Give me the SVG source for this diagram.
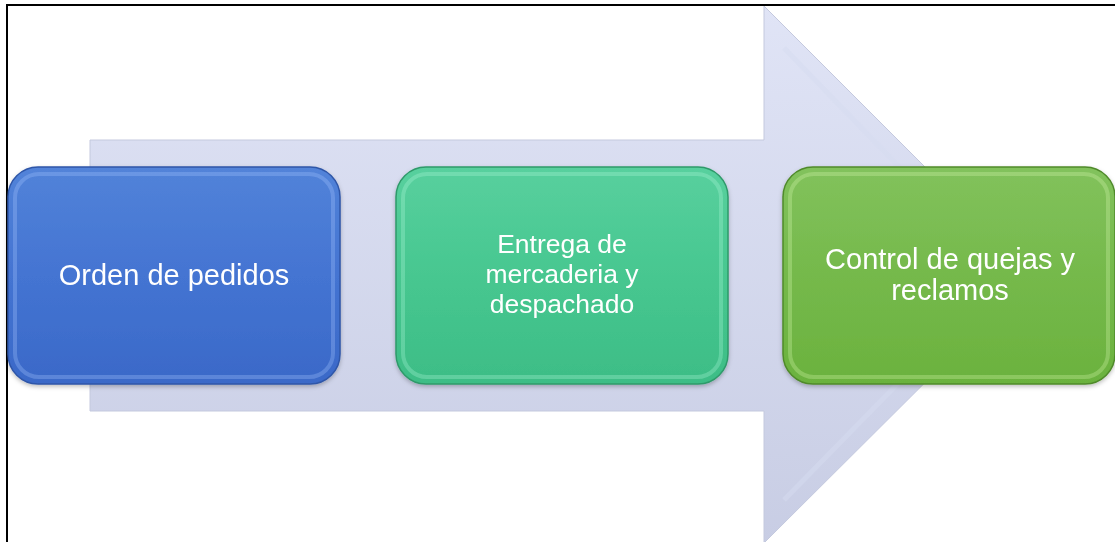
<svg xmlns="http://www.w3.org/2000/svg" width="1115" height="542" viewBox="0 0 1115 542">
<defs>
<linearGradient id="gArrow" x1="0" y1="0" x2="0" y2="1">
<stop offset="0" stop-color="#e0e4f6"/>
<stop offset="1" stop-color="#c8cde4"/>
</linearGradient>
<linearGradient id="gBlue" x1="0" y1="0" x2="0" y2="1">
<stop offset="0" stop-color="#5283d9"/>
<stop offset="0.5" stop-color="#4474d2"/>
<stop offset="1" stop-color="#3a69c8"/>
</linearGradient>
<linearGradient id="gTeal" x1="0" y1="0" x2="0" y2="1">
<stop offset="0" stop-color="#58d09e"/>
<stop offset="0.5" stop-color="#47c790"/>
<stop offset="1" stop-color="#3dbd86"/>
</linearGradient>
<linearGradient id="gGreen" x1="0" y1="0" x2="0" y2="1">
<stop offset="0" stop-color="#82c25c"/>
<stop offset="0.5" stop-color="#75b94b"/>
<stop offset="1" stop-color="#6bb23e"/>
</linearGradient>
<filter id="shadow" x="-5%" y="-5%" width="110%" height="115%">
<feDropShadow dx="0" dy="2" stdDeviation="2" flood-color="#000" flood-opacity="0.25"/>
</filter>
</defs>
<style>
.lbl{font-family:"Liberation Sans",Arial,sans-serif;font-size:29px;fill:#ffffff;text-anchor:middle}
.sm{font-size:26.5px}
.hl{fill:none;stroke-width:4;stroke-opacity:0.3}
</style>
<rect x="7" y="5" width="1120" height="545" fill="#ffffff" stroke="#000000" stroke-width="2"/>
<g id="flow-arrow">
<path d="M90,140 H764 V6 L1033,275 L764,543 V411 H90 Z" fill="url(#gArrow)" stroke="#c4c9de" stroke-width="1"/>
<path d="M784,48 L1004,275 L784,500" fill="none" stroke="#d6dbef" stroke-width="5" stroke-opacity="0.5"/>
</g>
<g id="connectors"></g>
<g id="node-orden" filter="url(#shadow)">
<rect x="8" y="167" width="332" height="217" rx="30" fill="url(#gBlue)" stroke="#2f56a8" stroke-width="1.5"/>
<rect x="15" y="174" width="318" height="203" rx="24" class="hl" stroke="#a8c8ff"/>
<text class="lbl" x="174" y="285">Orden de pedidos</text>
</g>
<g id="node-entrega" filter="url(#shadow)">
<rect x="396" y="167" width="332" height="217" rx="30" fill="url(#gTeal)" stroke="#2e9a6a" stroke-width="1.5"/>
<rect x="403" y="174" width="318" height="203" rx="24" class="hl" stroke="#b0f8dc"/>
<text class="lbl sm" x="562" y="253">Entrega de</text>
<text class="lbl sm" x="562" y="283">mercaderia y</text>
<text class="lbl sm" x="562" y="313">despachado</text>
</g>
<g id="node-control" filter="url(#shadow)">
<rect x="783" y="167" width="332" height="217" rx="30" fill="url(#gGreen)" stroke="#4f8a2a" stroke-width="1.5"/>
<rect x="790" y="174" width="318" height="203" rx="24" class="hl" stroke="#d8f8b0"/>
<text class="lbl" x="950" y="269">Control de quejas y</text>
<text class="lbl" x="950" y="300">reclamos</text>
</g>
</svg>
